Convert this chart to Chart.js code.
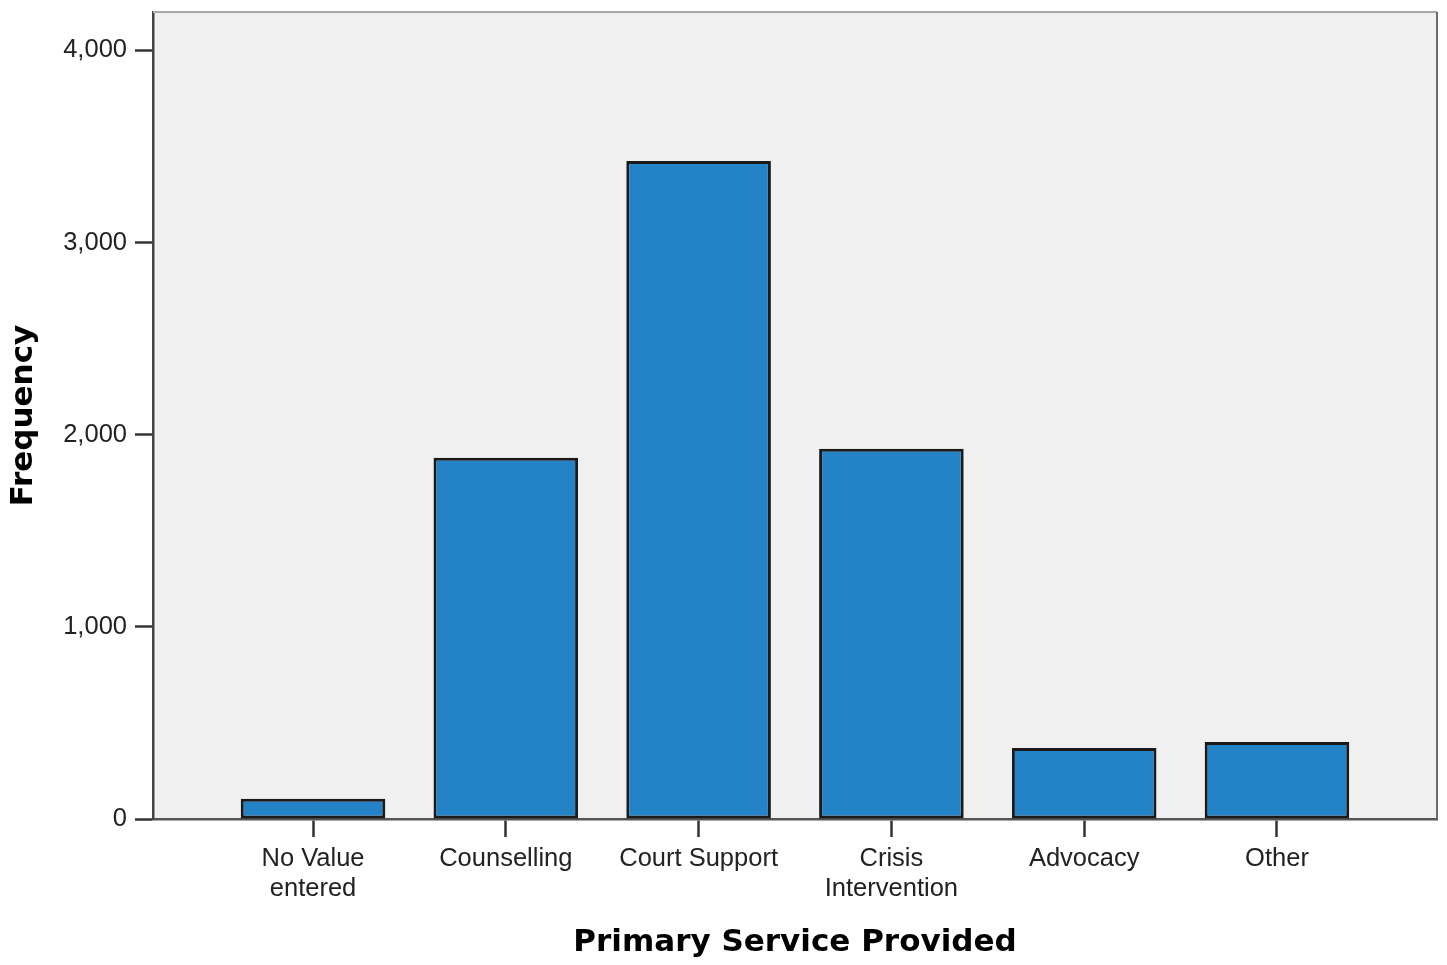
<!DOCTYPE html>
<html>
<head>
<meta charset="utf-8">
<script src="https://cdn.jsdelivr.net/npm/chart.js@4.4.1/dist/chart.umd.min.js"></script>
<style>
  html, body { margin: 0; padding: 0; background: #ffffff; }
  canvas { display: block; }
</style>
</head>
<body>
<canvas id="c" width="1447" height="965"></canvas>
<script>
// ---- data ----
const categories = ["No Value entered", "Counselling", "Court Support", "Crisis Intervention", "Advocacy", "Other"];
const tickLabels = [["No Value", "entered"], "Counselling", "Court Support", ["Crisis", "Intervention"], "Advocacy", "Other"];
const frequencies = [105, 1880, 3424, 1927, 370, 401];
const yTicks = [0, 1000, 2000, 3000, 4000];
const xTitle = "Primary Service Provided";
const yTitle = "Frequency";

const points = categories.map((c, i) => ({ x: i, y: frequencies[i] }));

const plotFrame = {
  id: 'plotFrame',
  beforeDraw(chart) {
    const { ctx, chartArea: a } = chart;
    ctx.save();
    ctx.fillStyle = '#f0f0f0';
    ctx.fillRect(a.left, a.top, a.right - a.left, a.bottom - a.top);
    ctx.restore();
  },
  afterDraw(chart) {
    const { ctx, chartArea: a } = chart;
    ctx.save();
    ctx.lineWidth = 2;
    ctx.strokeStyle = '#a8a8a8';
    ctx.beginPath();
    ctx.moveTo(a.left, a.top);
    ctx.lineTo(a.right, a.top);
    ctx.stroke();
    ctx.strokeStyle = '#6a6a6a';
    ctx.beginPath();
    ctx.moveTo(a.right, a.top);
    ctx.lineTo(a.right, a.bottom);
    ctx.stroke();
    ctx.restore();
  }
};

new Chart(document.getElementById('c'), {
  type: 'bar',
  data: {
    datasets: [{
      data: points,
      backgroundColor: '#2483c6',
      borderColor: '#1a1a1a',
      borderWidth: 3,
      borderSkipped: false,
      categoryPercentage: 1,
      barPercentage: 0.75
    }]
  },
  options: {
    responsive: false,
    devicePixelRatio: 1,
    animation: false,
    layout: { padding: { left: 0, right: 10, top: 12, bottom: 0 } },
    plugins: { legend: { display: false }, tooltip: { enabled: false } },
    scales: {
      x: {
        type: 'linear',
        min: -0.83,
        max: 5.83,
        offset: false,
        afterFit(s) { s.height = 146; s.paddingLeft = 0; s.paddingRight = 0; },
        grid: { offset: false, drawOnChartArea: false, drawTicks: true, tickLength: 18, tickWidth: 2.5, color: '#333333' },
        border: { display: true, color: '#555555', width: 2.5 },
        ticks: {
          stepSize: 1,
          includeBounds: false,
          autoSkip: false,
          maxRotation: 0,
          padding: 7,
          color: '#222222',
          font: { family: '"Liberation Sans", Arial, sans-serif', size: 25.5, lineHeight: 1.18 },
          callback: (v) => (Number.isInteger(v) && v >= 0 && v < tickLabels.length) ? tickLabels[v] : ''
        },
        title: {
          display: true,
          text: xTitle,
          color: '#000000',
          padding: { top: 0, bottom: 3 },
          font: { family: '"DejaVu Sans", Verdana, sans-serif', size: 31, weight: 'bold', lineHeight: 1.2 }
        }
      },
      y: {
        min: 0,
        max: 4200,
        afterFit(s) { s.width = 153; s.paddingTop = 0; s.paddingBottom = 0; },
        afterBuildTicks(s) { s.ticks = yTicks.map(v => ({ value: v })); },
        grid: { drawOnChartArea: false, drawTicks: true, tickLength: 18, tickWidth: 2.5, color: '#333333' },
        border: { display: true, color: '#444444', width: 2.5 },
        ticks: {
          padding: 8,
          color: '#222222',
          font: { family: '"Liberation Sans", Arial, sans-serif', size: 25.5 },
          callback: (v) => v.toLocaleString('en-US')
        },
        title: {
          display: true,
          text: yTitle,
          color: '#000000',
          padding: { top: 5, bottom: 0 },
          font: { family: '"DejaVu Sans", Verdana, sans-serif', size: 31, weight: 'bold', lineHeight: 1.2 }
        }
      }
    }
  },
  plugins: [plotFrame]
});
</script>
</body>
</html>
